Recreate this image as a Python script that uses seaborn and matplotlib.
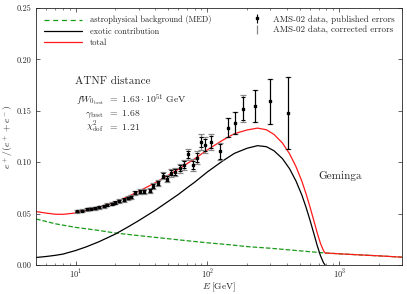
import numpy as np
import pandas as pd
import matplotlib
matplotlib.use("Agg")
import matplotlib.pyplot as plt
import seaborn as sns
from matplotlib.lines import Line2D

# AMS-02 positron fraction points
ams_E = [10.3, 11.2, 12.1, 13.0, 14.0, 15.1, 16.3, 17.3, 18.7, 20.0, 21.4, 23.1, 24.8, 26.5,
         28.4, 30.5, 32.8, 36.4, 38.9, 42.0, 45.6, 49.3, 52.9, 57.1, 62.4, 66.5, 71.6, 77.3,
         83.0, 88.9, 96.2, 106.8, 123.9, 142, 161, 187, 228, 298, 412]
ams_frac = [0.0520, 0.0528, 0.0540, 0.0548, 0.0551, 0.0560, 0.0570, 0.0584, 0.0594, 0.0607,
            0.0620, 0.0634, 0.0650, 0.0659, 0.0703, 0.0712, 0.0716, 0.0722, 0.0768, 0.0795,
            0.0868, 0.0839, 0.0897, 0.0904, 0.0940, 0.0975, 0.1075, 0.0975, 0.1044, 0.1193,
            0.1167, 0.1193, 0.1105, 0.1335, 0.1380, 0.1520, 0.1550, 0.1590, 0.1480]
err_published = [0.0008, 0.0008, 0.0009, 0.0009, 0.0009, 0.0010, 0.0010, 0.0010, 0.0011, 0.0011,
                 0.0012, 0.0012, 0.0013, 0.0013, 0.0014, 0.0015, 0.0016, 0.0017, 0.0018, 0.0020,
                 0.0022, 0.0024, 0.0026, 0.0028, 0.0030, 0.0033, 0.0036, 0.0040, 0.0045, 0.0050,
                 0.0055, 0.0060, 0.0075, 0.0090, 0.0105, 0.0110, 0.0155, 0.0215, 0.0350]
err_corrected = [0.0012, 0.0012, 0.0013, 0.0013, 0.0013, 0.0014, 0.0014, 0.0015, 0.0016, 0.0016,
                 0.0017, 0.0018, 0.0019, 0.0020, 0.0020, 0.0022, 0.0023, 0.0025, 0.0027, 0.0029,
                 0.0032, 0.0035, 0.0038, 0.0041, 0.0045, 0.0049, 0.0054, 0.0060, 0.0066, 0.0078,
                 0.0078, 0.0080, 0.0085, 0.0090, 0.0105, 0.0130, 0.0155, 0.0215, 0.0350]

# model curves
bg_E = [5, 7, 10, 15, 20, 30, 50, 70, 100, 150, 200, 300, 500, 800, 1000, 1500, 2000, 3000]
bg_frac = [0.0447, 0.0400, 0.0365, 0.0335, 0.0310, 0.0285, 0.0255, 0.0235, 0.0215, 0.0195,
           0.0178, 0.0162, 0.0137, 0.0115, 0.0108, 0.0096, 0.0088, 0.0075]

exo_E = [5, 6, 7, 8, 10, 12, 15, 20, 25, 30, 40, 50, 60, 70, 80, 100, 130, 160, 200, 240, 280,
         320, 370, 420, 470, 520, 560, 600, 640, 680, 720, 760, 780]
exo_frac = [0.0072, 0.0082, 0.0093, 0.0105, 0.0140, 0.0175, 0.0225, 0.0300, 0.0370, 0.0430,
            0.0530, 0.0615, 0.0685, 0.0750, 0.0805, 0.0905, 0.1010, 0.1085, 0.1135, 0.1160,
            0.1150, 0.1110, 0.1035, 0.0935, 0.0815, 0.0680, 0.0560, 0.0435, 0.0310, 0.0190,
            0.0090, 0.0020, 0.0000]

sns.set_style("ticks")
plt.rcParams["font.family"] = "serif"
plt.rcParams["font.serif"] = ["cmr10"]
plt.rcParams["mathtext.fontset"] = "cm"
plt.rcParams["axes.formatter.use_mathtext"] = True

fig = plt.figure(figsize=(4.07, 2.94), dpi=100)
ax = fig.add_axes([0.0885, 0.099, 0.8995, 0.874])

bg = pd.DataFrame({"E": bg_E, "frac": bg_frac})
exo = pd.DataFrame({"E": exo_E, "frac": exo_frac})
tot_E = sorted(set(bg_E) | set(exo_E))
tot = pd.DataFrame({"E": tot_E})
tot["frac"] = (np.interp(np.log(tot["E"]), np.log(bg_E), bg_frac)
               + np.interp(np.log(tot["E"]), np.log(exo_E), exo_frac, right=0.0))

sns.lineplot(data=bg, x="E", y="frac", ax=ax, color="#1a9a1a", lw=0.9, dashes=(4, 3),
             linestyle="--")
sns.lineplot(data=exo, x="E", y="frac", ax=ax, color="black", lw=0.9)
sns.lineplot(data=tot, x="E", y="frac", ax=ax, color="#ff1a1a", lw=0.9)

ax.errorbar(ams_E, ams_frac, yerr=err_corrected, fmt="none", ecolor="#888888",
            elinewidth=0.9, capsize=2, capthick=0.9, zorder=3)
ax.errorbar(ams_E, ams_frac, yerr=err_published, fmt="s", color="black", ms=1.6,
            elinewidth=0.8, capsize=1.5, capthick=0.8, zorder=4)

ax.set_xscale("log")
ax.set_xlim(5, 3000)
ax.set_ylim(0, 0.25)
ax.set_yticks([0, 0.05, 0.10, 0.15, 0.20, 0.25])
ax.set_yticklabels(["0.00", "0.05", "0.10", "0.15", "0.20", "0.25"])
ax.tick_params(which="both", direction="in", top=True, right=True, labelsize=6)
ax.tick_params(which="major", length=3, width=0.5)
ax.tick_params(which="minor", length=1.5, width=0.4)
ax.tick_params(axis="x", which="both", pad=2)
for s in ax.spines.values():
    s.set_linewidth(0.6)

ax.set_xlabel(r"$E\;[\mathrm{GeV}]$", fontsize=6.8)
ax.xaxis.set_label_coords(0.5, -0.062)
ax.set_ylabel(r"$e^+/(e^+ + e^-)$", fontsize=7, labelpad=1)

h1 = [Line2D([], [], color="#1a9a1a", lw=0.9, ls="--", dashes=(4, 3)),
      Line2D([], [], color="black", lw=0.9),
      Line2D([], [], color="#ff1a1a", lw=0.9)]
leg1 = ax.legend(h1, ["astrophysical background (MED)", "exotic contribution", "total"],
                 loc="upper left", bbox_to_anchor=(0.0, 1.0), frameon=False, fontsize=6,
                 handlelength=4.6, handletextpad=1.0, labelspacing=0.35, borderaxespad=0.5)
ax.add_artist(leg1)

e1 = ax.errorbar([], [], yerr=[], fmt="s", color="black", ms=1.6, elinewidth=0.8, capsize=1.5)
e2 = ax.errorbar([], [], yerr=[], fmt="none", ecolor="#888888", elinewidth=0.9, capsize=2)
ax.legend([e1, e2], ["AMS-02 data, published errors", "AMS-02 data, corrected errors"],
          loc="upper right", frameon=False, fontsize=6.5, handlelength=1.0,
          handletextpad=1.3, labelspacing=0.3, borderaxespad=0.4)

ax.text(0.107, 0.705, "ATNF distance", transform=ax.transAxes, fontsize=8)
lhs = [r"$fW_{0_{\rm best}}$", r"$\gamma_{\rm best}$", r"$\chi^2_{\rm dof}$"]
rhs = [r"$=\ 1.63\cdot10^{51}\ \mathrm{GeV}$", r"$=\ 1.68$", r"$=\ 1.21$"]
for i, (l, r) in enumerate(zip(lhs, rhs)):
    yy = 0.632 - i * 0.053
    ax.text(0.185, yy, l, transform=ax.transAxes, fontsize=7, ha="right")
    ax.text(0.197, yy, r, transform=ax.transAxes, fontsize=7, ha="left")

ax.text(0.77, 0.335, "Geminga", transform=ax.transAxes, fontsize=8)

fig.savefig("out.png", dpi=100)
